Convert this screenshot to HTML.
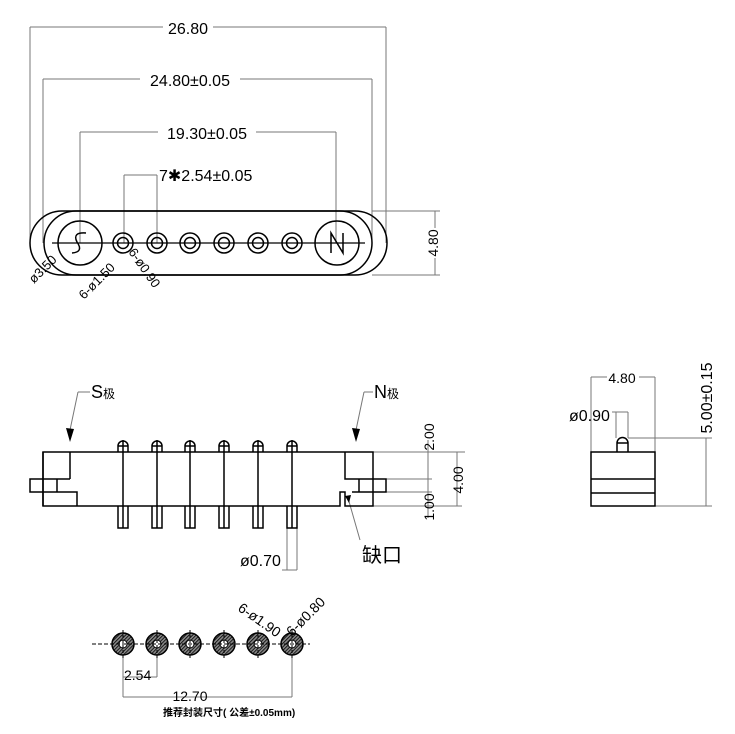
<!DOCTYPE html>
<html><head><meta charset="utf-8"><style>
html,body{margin:0;padding:0;background:#fff}
svg{display:block}
text{font-family:"Liberation Sans","Noto Sans CJK SC",sans-serif;fill:#000}
</style></head><body>
<svg width="735" height="734" viewBox="0 0 735 734" xmlns="http://www.w3.org/2000/svg">
<defs>
<pattern id="h" width="2.5" height="2.5" patternUnits="userSpaceOnUse" patternTransform="rotate(45)">
<rect width="2.5" height="2.5" fill="#888"/><line x1="0" y1="0" x2="0" y2="2.5" stroke="#000" stroke-width="1.6"/></pattern>
</defs>
<g stroke="#777" stroke-width="1" fill="none">
<path d="M30 27H386M30 27V243M386 27V243"/>
<path d="M43 79H372M43 79V243M372 79V243"/>
<path d="M80 132H336M80 132V243M336 132V243"/>
<path d="M124 175H157M124 175V243M157 175V243"/>
<path d="M372 211H440M372 275H440M435 211V275"/>
<path d="M373 452H465M386 479H432M386 492H432M373 506H462M428 440V518M457 452V506"/>
<path d="M287 528V570M297 528V570M282 570H297"/>
<path d="M78 392H90M78 392L70 430M364 392H373M364 392L356 430M348 498L360 540"/>
<path d="M591 377H655M591 377V452M655 377V452M616 412V438M628 412V438M612 412H628M628 438H712M655 506H712M706 438V506"/>
<path d="M123 655V697M157 655V677M123 677H157M123 697H292M292 655V697"/>
</g>
<g fill="#fff">
<rect x="163" y="18" width="50" height="18"/>
<rect x="140" y="70" width="100" height="18"/>
<rect x="158" y="123" width="98" height="18"/>
<rect x="423" y="228" width="18" height="30"/>
<rect x="607" y="369" width="32" height="16"/>
</g>
<g font-size="16">
<text x="188" y="34" text-anchor="middle">26.80</text>
<text x="190" y="86" text-anchor="middle">24.80±0.05</text>
<text x="207" y="139" text-anchor="middle">19.30±0.05</text>
<text x="159" y="181">7✱2.54±0.05</text>
<text transform="translate(438,243) rotate(-90)" text-anchor="middle" font-size="14">4.80</text>
</g>
<g stroke="#000" stroke-width="1.5" fill="none">
<path d="M62 211H355A32 32 0 0 1 355 275H62A32 32 0 0 1 62 211Z"/>
<path d="M76 211H340A32 32 0 0 1 340 275H76A32 32 0 0 1 76 211Z"/>
<circle cx="80" cy="243" r="22"/><circle cx="337" cy="243" r="22"/>
<g id="p"><circle cx="123" cy="243" r="10"/><circle cx="123" cy="243" r="5.5"/></g>
<use href="#p" x="34"/><use href="#p" x="67"/><use href="#p" x="101"/><use href="#p" x="135"/><use href="#p" x="169"/>
<path d="M52 243H365" stroke-width="1.2"/>
<path d="M86 233Q72 232 77 242Q84 252 72 253" stroke-width="1.5"/>
<path d="M331 253V233L343 253V233" stroke-width="1.5"/>
</g>
<g font-size="13">
<text transform="translate(34,284) rotate(-45)">ø3.50</text>
<text transform="translate(84,300) rotate(-45)">6-ø1.50</text>
<text transform="translate(128,252) rotate(55)">6-ø0.90</text>
</g>
<g stroke="#000" stroke-width="1.5" fill="none">
<path d="M43 452H373V506H345V492H340V506H77V506H43Z"/>
<path d="M43 452V506M70 452V479M43 479H70M30 479H57V492H30ZM57 479V492M43 492H77V506"/>
<path d="M345 452V479H373M359 479H386V492H359ZM352 492H373"/>
<g id="sp"><path d="M118 452V446A5 5 0 0 1 128 446V452M123 440V506M118 446H128M118 506V528H128V506M123 506V528"/></g>
<use href="#sp" x="34"/><use href="#sp" x="67"/><use href="#sp" x="101"/><use href="#sp" x="135"/><use href="#sp" x="169"/>
</g>
<path d="M66 428L70 442L74 429Z M352 428L356 442L360 429Z M345 496L349 503L351 495Z" fill="#000"/>
<text x="91" y="398" font-size="18">S<tspan font-size="12">极</tspan></text>
<text x="374" y="398" font-size="18">N<tspan font-size="12">极</tspan></text>
<text x="240" y="566" font-size="16">ø0.70</text>
<text x="362" y="562" font-size="20">缺口</text>
<g font-size="14">
<text transform="translate(434,437) rotate(-90)" text-anchor="middle">2.00</text>
<text transform="translate(463,480) rotate(-90)" text-anchor="middle">4.00</text>
<text transform="translate(434,507) rotate(-90)" text-anchor="middle">1.00</text>
</g>
<g stroke="#000" stroke-width="1.5" fill="none">
<rect x="591" y="452" width="64" height="54"/>
<path d="M591 479H655M591 493H655M617 452V443A5.5 5.5 0 0 1 628 443V452M617 443H628"/>
</g>
<text x="622" y="383" font-size="14" text-anchor="middle">4.80</text>
<text x="569" y="421" font-size="16">ø0.90</text>
<text transform="translate(712,398) rotate(-90)" text-anchor="middle" font-size="16">5.00±0.15</text>
<g>
<g id="f"><circle cx="123" cy="644" r="11" fill="url(#h)" stroke="#000" stroke-width="1.5"/><circle cx="123" cy="644" r="4" fill="#fff" stroke="#000"/><path d="M123 630V658" stroke="#000" stroke-dasharray="3 2"/></g>
<use href="#f" x="34"/><use href="#f" x="67"/><use href="#f" x="101"/><use href="#f" x="135"/><use href="#f" x="169"/>
<path d="M92 644H310" stroke="#000" stroke-dasharray="4 2"/>
</g>
<g font-size="14">
<text x="124" y="680">2.54</text>
<text x="190" y="701" text-anchor="middle">12.70</text>
<text transform="translate(237,610) rotate(35)">6-ø1.90</text>
<text transform="translate(292,637) rotate(-45)">6-ø0.80</text>
</g>
<text x="163" y="716" font-size="10" font-weight="bold">推荐封装尺寸( 公差±0.05mm)</text>
</svg>
</body></html>
